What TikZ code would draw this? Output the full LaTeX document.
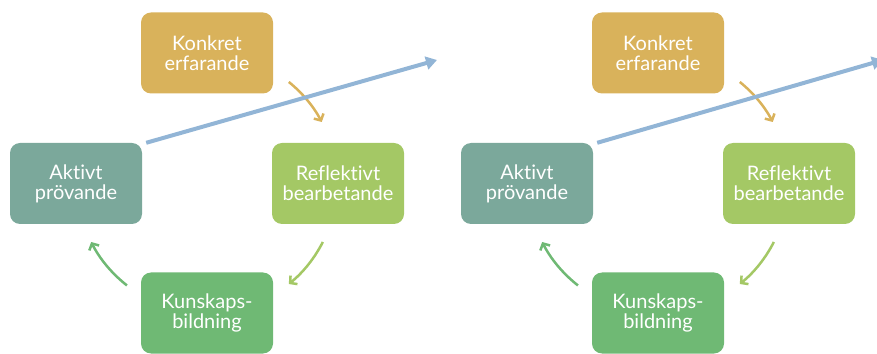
\documentclass[tikz,border=0pt]{standalone}
\usepackage{fontspec}
\setmainfont{Lato}[Ligatures=NoCommon]
\usetikzlibrary{arrows.meta,positioning}

\definecolor{konkretcol}{HTML}{D9B25B}
\definecolor{aktivtcol}{HTML}{7BA89B}
\definecolor{reflcol}{HTML}{A4C865}
\definecolor{kunskcol}{HTML}{6FB974}
\definecolor{flowcol}{HTML}{92B5D6}

\tikzset{
    phase/.style = {rectangle, rounded corners=10pt, minimum width=132pt,
        minimum height=81pt, text=white, align=center,
        font=\fontsize{20}{20}\selectfont},
    cyc/.style = {line width=2.5pt, -{Straight Barb[length=5pt,width=11pt]}},
    flow/.style = {draw=flowcol, line width=4pt, -{Triangle[length=11pt,width=13pt]}}
}

\begin{document}
\begin{tikzpicture}[x=1pt, y=1pt]
    \useasboundingbox (0,0) rectangle (877,353);
    \foreach \s/\dx/\tip in {L/0/437, R/451/883} {
        \coordinate (mid\s) at (207+\dx,170);
        \node [phase, fill=konkretcol] (kon\s) at (207+\dx,300) {Konkret\\erfarande};
        \node [phase, fill=aktivtcol] (akt\s) at (76+\dx,169.5) {Aktivt\\prövande};
        \node [phase, fill=reflcol] (ref\s) at (338+\dx,169.5) {Reflektivt\\bearbetande};
        \node [phase, fill=kunskcol] (kun\s) at (207+\dx,40) {Kunskaps-\\bildning};
        % cycle arrows round the middle
        \draw [cyc, draw=konkretcol] (mid\s) ++(51:130) arc [start angle=51, end angle=28, radius=130];
        \draw [cyc, draw=reflcol] (mid\s) ++(-27:130) arc [start angle=-27, end angle=-51, radius=130];
        \draw [cyc, draw=kunskcol] (mid\s) ++(-128:130) arc [start angle=-128, end angle=-153, radius=130];
        % way out of the cycle
        \coordinate (out\s) at (\tip,293);
        \draw [flow] ([xshift=4pt]akt\s.north east) -- (out\s);
    }
\end{tikzpicture}
\end{document}
